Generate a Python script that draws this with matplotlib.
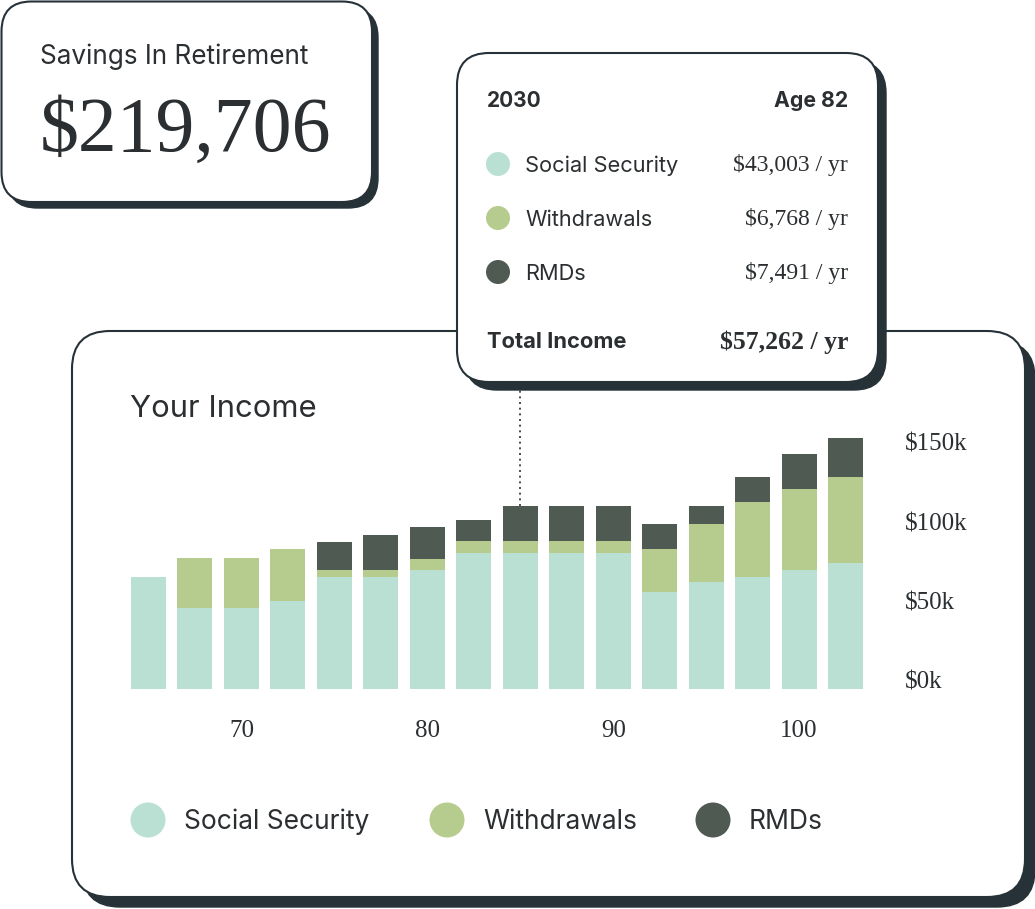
import matplotlib
matplotlib.use("Agg")
import matplotlib.pyplot as plt
from matplotlib.patches import FancyBboxPatch, Circle
import numpy as np

# ---------------- data ----------------
ages = [65, 67.5, 70, 72.5, 75, 77.5, 80, 82.5, 85, 87.5, 90, 92.5, 95, 97.5, 100, 102.5]
social_security = [70.6, 51, 51, 55.5, 70.6, 70.6, 75, 85.7, 85.7, 85.7, 85.7, 61, 67.4, 70.6, 75, 79.4]
withdrawals = [0, 31.5, 31.5, 32.8, 4.4, 4.4, 6.9, 7.6, 7.6, 7.6, 7.6, 27, 36.5, 47.3, 51, 54.2]
rmds = [0, 0, 0, 0, 17.6, 22, 20.2, 13.2, 22, 22, 22, 15.8, 11.3, 15.8, 22, 24.6]
x_tick_labels = ["70", "80", "90", "100"]
x_tick_ages = [70, 80, 90, 100]
y_ticks = [0, 50, 100, 150]
y_tick_labels = ["$0k", "$50k", "$100k", "$150k"]
series_names = ["Social Security", "Withdrawals", "RMDs"]
tooltip_year = "2030"
tooltip_age = "Age 82"
tooltip_values = ["$43,003 / yr", "$6,768 / yr", "$7,491 / yr"]
tooltip_total = "$57,262 / yr"
savings_title = "Savings In Retirement"
savings_value = "$219,706"
highlight_index = 8

# ---------------- style ----------------
C_SS = "#b9e0d3"
C_W = "#b5cc8e"
C_R = "#4f5a52"
DARK = "#263238"
TEXT = "#2b2f31"
SANS = ["Inter", "DejaVu Sans"]
SERIF = ["Liberation Serif", "DejaVu Serif"]
colors = [C_SS, C_W, C_R]

W, H = 1035, 909
fig = plt.figure(figsize=(W / 100, H / 100), dpi=100)
fig.patch.set_facecolor("white")

bg = fig.add_axes([0, 0, 1, 1], zorder=0)
bg.set_xlim(0, W)
bg.set_ylim(H, 0)
bg.axis("off")


def card(x0, y0, x1, y1, shadow, radius, z):
    sh = FancyBboxPatch((x0 + shadow, y0 + shadow), x1 - x0, y1 - y0,
                        boxstyle=f"round,pad=0,rounding_size={radius}",
                        facecolor=DARK, edgecolor=DARK, linewidth=1, zorder=z)
    bg.add_patch(sh)
    c = FancyBboxPatch((x0, y0), x1 - x0, y1 - y0,
                       boxstyle=f"round,pad=0,rounding_size={radius}",
                       facecolor="white", edgecolor=DARK, linewidth=1.5, zorder=z + 0.1)
    bg.add_patch(c)


# main card
card(72, 331, 1025, 897, 10, 38, 1)
# savings card
card(1.5, 1.5, 372, 202, 6, 30, 1)
# tooltip card
card(457, 53, 878, 382, 8, 32, 3)

# savings card text
bg.text(40, 57, savings_title, family=SANS, fontsize=18.8, color=TEXT,
        va="center", ha="left", zorder=5)
bg.text(40, 132, savings_value, family=SERIF, fontsize=56, color=TEXT,
        va="center", ha="left", zorder=5)

# main title
bg.text(130, 409, "Your Income", family=SANS, fontsize=22.3, color=TEXT,
        va="center", ha="left", zorder=5)

# tooltip contents
bg.text(487, 101, tooltip_year, family=SANS, fontsize=15, fontweight="bold",
        color=TEXT, va="center", ha="left", zorder=5)
bg.text(848, 101, tooltip_age, family=SANS, fontsize=15.3, fontweight="bold",
        color=TEXT, va="center", ha="right", zorder=5)
row_y = [164, 218, 272]
for yy, name, val, col in zip(row_y, series_names, tooltip_values, colors):
    bg.add_patch(Circle((498, yy), 12, facecolor=col, edgecolor="none", zorder=5))
    bg.text(525, yy + 1.5, name, family=SANS, fontsize=15.7, color=TEXT,
            va="center", ha="left", zorder=5)
    bg.text(848, yy + 1.5, val, family=SERIF, fontsize=17, color=TEXT,
            va="center", ha="right", zorder=5)
bg.text(487, 342, "Total Income", family=SANS, fontsize=15.8, fontweight="bold",
        color=TEXT, va="center", ha="left", zorder=5)
bg.text(848, 342, tooltip_total, family=SERIF, fontsize=18.5, fontweight="bold",
        color=TEXT, va="center", ha="right", zorder=5)

# legend
leg_x = [148, 447, 713]
for lx, name, col in zip(leg_x, series_names, colors):
    bg.add_patch(Circle((lx, 820), 17.5, facecolor=col, edgecolor="none", zorder=5))
    bg.text(lx + 36, 822, name, family=SANS, fontsize=19, color=TEXT,
            va="center", ha="left", zorder=5)

# ---------------- bar chart ----------------
step = 46.47
left_px = 148.5 - step / 2
width_px = step * len(ages)
base_px = 689
px_per_k = 1.587
ymax = 160
ax = fig.add_axes([left_px / W, (H - base_px) / H, width_px / W, ymax * px_per_k / H],
                  zorder=2)
ax.patch.set_alpha(0)
x = np.arange(len(ages))
ss = np.array(social_security)
wd = np.array(withdrawals)
rm = np.array(rmds)
bw = 35 / step
ax.bar(x, ss, width=bw, color=C_SS, linewidth=0)
ax.bar(x, wd, width=bw, bottom=ss, color=C_W, linewidth=0)
ax.bar(x, rm, width=bw, bottom=ss + wd, color=C_R, linewidth=0)
ax.set_xlim(-0.5, len(ages) - 0.5)
ax.set_ylim(0, ymax)

xt = [ages.index(a) for a in x_tick_ages]
ax.set_xticks(xt)
ax.set_xticklabels(x_tick_labels, family=SERIF, fontsize=18, color=TEXT)
ax.tick_params(axis="x", length=0, pad=22)
ax.yaxis.tick_right()
ax.set_yticks(y_ticks)
ax.set_yticklabels(y_tick_labels, family=SERIF, fontsize=18, color=TEXT)
ax.tick_params(axis="y", length=0, pad=26)
for lab in ax.get_yticklabels():
    lab.set_verticalalignment("baseline")
for s in ax.spines.values():
    s.set_visible(False)

# dotted connector from tooltip to highlighted bar
top_k = (base_px - 390) / px_per_k
tot = ss + wd + rm
ax.plot([highlight_index, highlight_index], [tot[highlight_index], top_k],
        linestyle=(0, (1.2, 2.2)), color=DARK, linewidth=1.2, clip_on=False)

fig.savefig("out.png", dpi=100, facecolor="white")
